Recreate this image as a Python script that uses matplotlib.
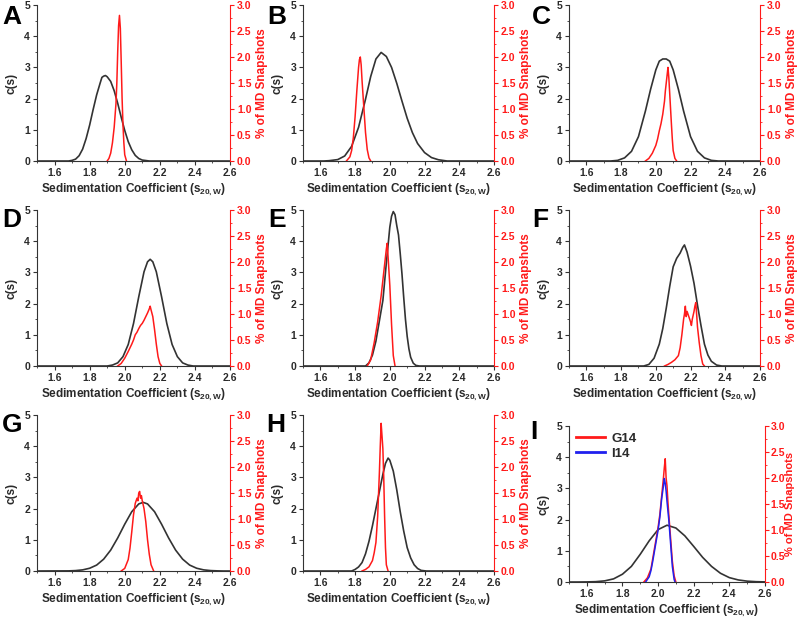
import matplotlib
matplotlib.use("Agg")
import matplotlib.pyplot as plt
from matplotlib.ticker import MultipleLocator, FormatStrFormatter

plt.rcParams['font.family'] = ['Liberation Sans', 'DejaVu Sans']
plt.rcParams['font.weight'] = 'bold'
plt.rcParams['mathtext.fontset'] = 'custom'
plt.rcParams['mathtext.rm'] = 'Liberation Sans:bold'
plt.rcParams['mathtext.it'] = 'Liberation Sans:bold'
plt.rcParams['mathtext.bf'] = 'Liberation Sans:bold'

# ---- data: c(s) (black) and % of MD snapshots (red) ----
a_x = [1.5, 1.68, 1.70, 1.72, 1.74, 1.76, 1.78, 1.80, 1.82, 1.84, 1.86, 1.87, 1.88, 1.89, 1.90,
       1.92, 1.94, 1.96, 1.98, 2.00, 2.02, 2.04, 2.06, 2.08, 2.10, 2.14, 2.6]
a_cs = [0, 0, 0.02, 0.06, 0.17, 0.38, 0.72, 1.15, 1.65, 2.12, 2.50, 2.68, 2.72, 2.74, 2.70,
        2.55, 2.25, 1.85, 1.40, 0.98, 0.62, 0.36, 0.18, 0.08, 0.03, 0, 0]
a_md_x = [1.90, 1.91, 1.92, 1.93, 1.94, 1.95, 1.955, 1.96, 1.965, 1.97, 1.975, 1.98, 1.985,
          1.99, 1.995, 2.00, 2.01]
a_md = [0, 0.05, 0.15, 0.35, 0.65, 1.1, 1.5, 2.1, 2.6, 2.8, 2.55, 1.9, 1.2, 0.7, 0.35, 0.12, 0]

b_x = [1.5, 1.62, 1.65, 1.70, 1.74, 1.78, 1.82, 1.86, 1.89, 1.92, 1.95, 1.98, 2.01, 2.04, 2.07,
       2.10, 2.13, 2.16, 2.20, 2.24, 2.28, 2.33, 2.6]
b_cs = [0, 0, 0.01, 0.045, 0.16, 0.47, 1.08, 1.98, 2.71, 3.27, 3.48, 3.35, 3.0, 2.49, 1.92,
        1.37, 0.91, 0.56, 0.27, 0.11, 0.04, 0, 0]
b_md_x = [1.75, 1.77, 1.78, 1.79, 1.80, 1.81, 1.82, 1.825, 1.83, 1.835, 1.84, 1.85, 1.86,
          1.87, 1.88, 1.89]
b_md = [0, 0.08, 0.2, 0.45, 0.85, 1.35, 1.8, 1.95, 2.0, 1.85, 1.55, 1.05, 0.55, 0.22, 0.06, 0]

c_x = [1.5, 1.74, 1.78, 1.82, 1.86, 1.90, 1.94, 1.97, 2.00, 2.02, 2.04, 2.06, 2.08, 2.10,
       2.13, 2.16, 2.20, 2.24, 2.28, 2.32, 2.36, 2.6]
c_cs = [0, 0, 0.02, 0.1, 0.31, 0.78, 1.6, 2.3, 2.92, 3.2, 3.27, 3.27, 3.2, 2.92, 2.3, 1.6,
        0.78, 0.31, 0.1, 0.02, 0, 0]
c_md_x = [1.94, 1.96, 1.98, 2.00, 2.01, 2.02, 2.03, 2.04, 2.05, 2.055, 2.06, 2.065, 2.07,
          2.075, 2.08, 2.085, 2.09, 2.095, 2.10, 2.11, 2.12]
c_md = [0, 0.05, 0.15, 0.3, 0.42, 0.58, 0.72, 0.9, 1.15, 1.35, 1.5, 1.65, 1.8, 1.6, 1.3,
        1.0, 0.7, 0.42, 0.2, 0.05, 0]

d_x = [1.5, 1.90, 1.93, 1.96, 1.99, 2.02, 2.05, 2.08, 2.11, 2.13, 2.145, 2.16, 2.18, 2.21,
       2.24, 2.27, 2.30, 2.33, 2.36, 2.39, 2.6]
d_cs = [0, 0, 0.03, 0.1, 0.3, 0.69, 1.36, 2.22, 3.02, 3.34, 3.42, 3.34, 3.02, 2.22, 1.36,
        0.69, 0.3, 0.1, 0.03, 0, 0]
d_md_x = [1.96, 1.98, 2.00, 2.02, 2.04, 2.05, 2.06, 2.07, 2.08, 2.09, 2.10, 2.11, 2.12, 2.13,
          2.14, 2.145, 2.15, 2.16, 2.17, 2.18, 2.19, 2.20, 2.21]
d_md = [0, 0.05, 0.15, 0.28, 0.42, 0.5, 0.6, 0.65, 0.72, 0.78, 0.82, 0.88, 0.95, 1.02, 1.1,
        1.15, 1.08, 0.95, 0.7, 0.42, 0.18, 0.05, 0]

e_x = [1.5, 1.86, 1.88, 1.90, 1.92, 1.94, 1.96, 1.98, 2.00, 2.01, 2.02, 2.03, 2.04, 2.05,
       2.06, 2.07, 2.08, 2.09, 2.10, 2.11, 2.12, 2.135, 2.15, 2.17, 2.6]
e_cs = [0, 0, 0.1, 0.35, 0.8, 1.45, 2.1, 3.3, 4.45, 4.8, 4.95, 4.85, 4.5, 4.2, 3.6, 2.95,
        2.2, 1.5, 0.95, 0.55, 0.28, 0.09, 0.02, 0, 0]
e_md_x = [1.87, 1.89, 1.91, 1.93, 1.95, 1.97, 1.98, 1.985, 1.99, 2.00, 2.01, 2.02, 2.03]
e_md = [0, 0.12, 0.45, 0.85, 1.35, 1.95, 2.25, 2.36, 2.1, 1.55, 0.8, 0.2, 0]

f_x = [1.5, 1.93, 1.96, 1.99, 2.02, 2.04, 2.06, 2.08, 2.10, 2.12, 2.14, 2.155, 2.165, 2.18,
       2.20, 2.22, 2.24, 2.26, 2.28, 2.30, 2.32, 2.35, 2.38, 2.6]
f_cs = [0, 0, 0.05, 0.25, 0.7, 1.2, 1.85, 2.55, 3.18, 3.45, 3.62, 3.8, 3.88, 3.65, 3.2,
        2.65, 1.95, 1.3, 0.7, 0.35, 0.15, 0.03, 0, 0]
f_md_x = [2.05, 2.07, 2.09, 2.11, 2.13, 2.14, 2.15, 2.16, 2.165, 2.17, 2.175, 2.18, 2.19,
          2.20, 2.205, 2.21, 2.22, 2.225, 2.23, 2.235, 2.24, 2.25, 2.26, 2.27, 2.28]
f_md = [0, 0.03, 0.07, 0.12, 0.2, 0.35, 0.6, 0.9, 1.0, 1.15, 0.95, 1.05, 0.95, 0.85, 0.78,
        0.9, 1.05, 1.15, 1.22, 1.0, 0.75, 0.45, 0.2, 0.04, 0]

g_x = [1.5, 1.68, 1.72, 1.76, 1.80, 1.84, 1.88, 1.92, 1.96, 2.00, 2.04, 2.08, 2.105, 2.13,
       2.17, 2.21, 2.25, 2.29, 2.33, 2.37, 2.41, 2.45, 2.49, 2.53, 2.56, 2.6]
g_cs = [0, 0.004, 0.013, 0.036, 0.088, 0.19, 0.38, 0.67, 1.06, 1.5, 1.9, 2.15, 2.2, 2.15,
        1.9, 1.5, 1.06, 0.67, 0.38, 0.19, 0.088, 0.036, 0.013, 0.004, 0, 0]
g_md_x = [1.98, 2.00, 2.02, 2.03, 2.04, 2.05, 2.06, 2.07, 2.075, 2.08, 2.085, 2.09, 2.095,
          2.10, 2.11, 2.12, 2.13, 2.14, 2.15, 2.165]
g_md = [0, 0.05, 0.22, 0.44, 0.75, 1.08, 1.3, 1.4, 1.35, 1.5, 1.53, 1.4, 1.45, 1.35, 1.2,
        0.95, 0.6, 0.32, 0.12, 0]

h_x = [1.5, 1.78, 1.80, 1.82, 1.84, 1.86, 1.88, 1.90, 1.92, 1.94, 1.96, 1.975, 1.99, 2.00,
       2.02, 2.04, 2.06, 2.08, 2.10, 2.12, 2.14, 2.16, 2.18, 2.21, 2.6]
h_cs = [0, 0, 0.05, 0.13, 0.27, 0.55, 0.95, 1.45, 2.0, 2.55, 3.1, 3.45, 3.62, 3.55, 3.2,
        2.6, 1.9, 1.28, 0.75, 0.42, 0.2, 0.08, 0.02, 0, 0]
h_md_x = [1.84, 1.86, 1.88, 1.90, 1.91, 1.92, 1.93, 1.94, 1.945, 1.95, 1.955, 1.96, 1.965,
          1.97, 1.975, 1.98, 1.99]
h_md = [0, 0.03, 0.08, 0.2, 0.35, 0.55, 1.05, 1.9, 2.4, 2.84, 2.6, 2.35, 1.8, 1.05, 0.45,
        0.12, 0]

i_x = [1.5, 1.55, 1.60, 1.65, 1.70, 1.75, 1.80, 1.85, 1.90, 1.95, 2.00, 2.05, 2.10, 2.15,
       2.20, 2.25, 2.30, 2.35, 2.40, 2.45, 2.50, 2.55, 2.60]
i_cs = [0, 0, 0.003, 0.011, 0.036, 0.1, 0.25, 0.5, 0.89, 1.32, 1.68, 1.82, 1.73, 1.48,
        1.14, 0.79, 0.5, 0.28, 0.14, 0.066, 0.027, 0.01, 0.003]
i_g14_x = [1.92, 1.94, 1.96, 1.97, 1.98, 1.99, 2.00, 2.01, 2.02, 2.03, 2.035, 2.04, 2.045,
           2.05, 2.055, 2.06, 2.07, 2.08, 2.09, 2.10]
i_g14 = [0, 0.08, 0.25, 0.45, 0.65, 0.85, 1.05, 1.3, 1.65, 2.0, 2.2, 2.37, 2.0, 1.85, 1.55,
         1.3, 0.85, 0.4, 0.12, 0]
i_i14_x = [1.93, 1.95, 1.96, 1.97, 1.98, 1.99, 2.00, 2.01, 2.02, 2.03, 2.035, 2.04, 2.045,
           2.05, 2.06, 2.07, 2.08, 2.09, 2.095]
i_i14 = [0, 0.1, 0.22, 0.4, 0.6, 0.8, 1.0, 1.25, 1.6, 1.85, 1.99, 1.9, 1.75, 1.55, 1.2,
         0.75, 0.3, 0.05, 0]

panel_letters = ["A", "B", "C", "D", "E", "F", "G", "H", "I"]
cs_data = [(a_x, a_cs), (b_x, b_cs), (c_x, c_cs), (d_x, d_cs), (e_x, e_cs),
           (f_x, f_cs), (g_x, g_cs), (h_x, h_cs), (i_x, i_cs)]
md_data = [(a_md_x, a_md), (b_md_x, b_md), (c_md_x, c_md), (d_md_x, d_md), (e_md_x, e_md),
           (f_md_x, f_md), (g_md_x, g_md), (h_md_x, h_md)]

W, H = 800, 619
fig = plt.figure(figsize=(8.0, 6.19), dpi=100)

# axes boxes in pixels: left, top, right, bottom
boxes = [
    (37, 5, 230, 161), (303, 5, 494, 161), (569, 5, 760, 161),
    (37, 210, 230, 366), (303, 210, 494, 366), (569, 210, 760, 366),
    (37, 415, 230, 571), (303, 415, 494, 571), (569, 426, 765, 582),
]
letter_pos = [(2, 5), (267, 5), (532, 5), (2, 208), (268, 208), (532, 208),
              (2, 413), (266, 413), (530, 420)]

txt = '#2a2a2a'
red = '#ff1a1a'

for k, (l, t, r, b) in enumerate(boxes):
    ax = fig.add_axes([l / W, 1 - b / H, (r - l) / W, (b - t) / H])
    ax2 = ax.twinx()
    x, cs = cs_data[k]
    ax.plot(x, cs, color='#333333', lw=1.2, zorder=2)
    if k < 8:
        mx, md = md_data[k]
        ax2.plot(mx, md, color=red, lw=1.1)
    else:
        ax2.plot(i_g14_x, i_g14, color=red, lw=1.1, label='G14')
        ax2.plot(i_i14_x, i_i14, color='#2020ee', lw=1.1, label='I14')
        leg = ax2.legend(loc='upper left', frameon=False, fontsize=9.5, handlelength=2.2,
                         borderaxespad=0.1, handletextpad=0.5, labelspacing=0.2)
        for ln in leg.get_lines():
            ln.set_linewidth(2.0)
        for tx in leg.get_texts():
            tx.set_color(txt)

    ax.set_xlim(1.5, 2.6)
    ax.set_ylim(0, 5)
    ax2.set_ylim(0, 3)
    ax.xaxis.set_major_locator(MultipleLocator(0.2))
    ax.xaxis.set_minor_locator(MultipleLocator(0.1))
    ax.xaxis.set_major_formatter(FormatStrFormatter('%.1f'))
    ax.yaxis.set_major_locator(MultipleLocator(1))
    ax.yaxis.set_minor_locator(MultipleLocator(0.5))
    ax2.yaxis.set_major_locator(MultipleLocator(0.5))
    ax2.yaxis.set_minor_locator(MultipleLocator(0.25))
    ax2.yaxis.set_major_formatter(FormatStrFormatter('%.1f'))

    for a in (ax, ax2):
        a.spines['top'].set_visible(False)
        a.patch.set_visible(False)
    ax.spines['right'].set_visible(False)
    ax2.spines['left'].set_visible(False)
    ax2.spines['bottom'].set_visible(False)
    ax.spines['left'].set_color('#333333')
    ax.spines['bottom'].set_color('#333333')
    ax2.spines['right'].set_color(red)

    ax.tick_params(axis='both', which='major', length=3, width=0.8, labelsize=7.5,
                   colors='#333333', labelcolor=txt, pad=2)
    ax.tick_params(axis='both', which='minor', length=1.5, width=0.6, colors='#333333')
    ax2.tick_params(axis='y', which='major', length=3, width=0.8, labelsize=7.5,
                    colors=red, labelcolor=red, pad=2 if k < 8 else 1)
    ax2.tick_params(axis='y', which='minor', length=1.5, width=0.6, colors=red)
    for lab in ax.get_xticklabels() + ax.get_yticklabels() + ax2.get_yticklabels():
        lab.set_fontweight('bold')

    ax.set_xlabel(r'Sedimentation Coefficient (s$_{20,W}$)', fontsize=8.5,
                  fontweight='bold', color=txt, labelpad=3)
    ax.set_ylabel('c(s)', fontsize=8.5, fontweight='bold', color=txt, labelpad=5)
    ax2.set_ylabel('% of MD Snapshots', fontsize=8.5 if k < 8 else 8, fontweight='bold',
                   color=red, labelpad=3 if k < 8 else 0)

    lx, ly = letter_pos[k]
    fig.text(lx / W, 1 - ly / H, panel_letters[k], fontsize=19, fontweight='bold',
             color='black', ha='left', va='top')

plt.savefig("out.png", dpi=100)
